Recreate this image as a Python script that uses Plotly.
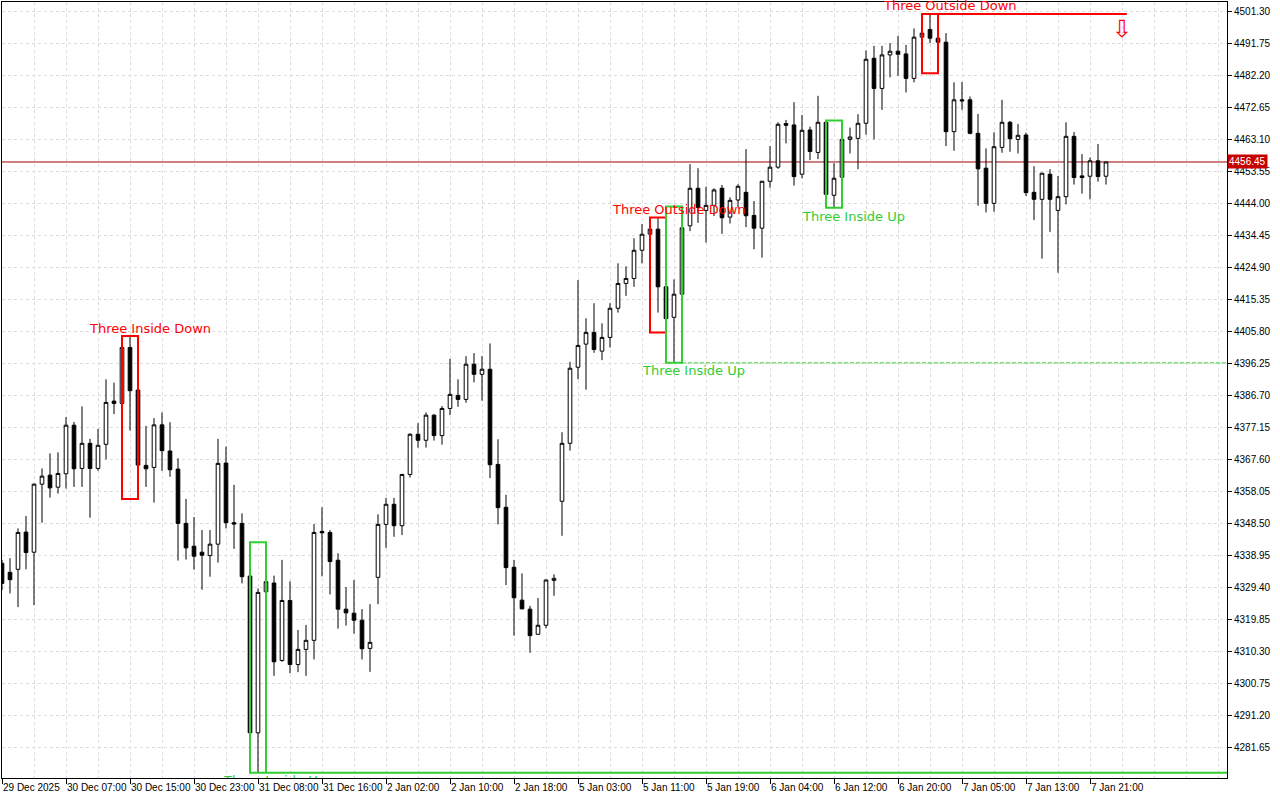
import plotly.graph_objects as go

# ---------------- data (hourly XAUUSD-like candles) ----------------
opens = [4336.7, 4334.0, 4334.9, 4346.0, 4340.0, 4360.3, 4363.0, 4359.4, 4363.4, 4377.9,
         4365.0, 4372.5, 4365.0, 4372.2, 4385.1, 4384.4, 4401.1, 4388.4, 4365.9, 4365.3,
         4378.0, 4370.2, 4364.8, 4348.6, 4341.8, 4340.0, 4339.0, 4342.4, 4366.6, 4348.8,
         4348.6, 4332.9, 4286.1, 4328.2, 4330.8, 4307.7, 4325.6, 4306.5, 4311.0, 4313.7,
         4346.2, 4345.9, 4337.6, 4323.0, 4321.8, 4319.7, 4311.3, 4332.5, 4348.3, 4354.3,
         4347.9, 4363.2, 4375.2, 4373.4, 4380.9, 4374.8, 4382.9, 4386.8, 4385.6, 4396.1,
         4393.1, 4394.6, 4366.2, 4353.4, 4335.5, 4325.7, 4323.0, 4315.5, 4318.2, 4331.6,
         4355.2, 4372.5, 4395.2, 4402.1, 4405.6, 4400.0, 4404.1, 4412.8, 4420.2, 4421.7,
         4430.1, 4434.9, 4436.4, 4419.2, 4410.1, 4417.0, 4437.4, 4448.6, 4442.0, 4443.5,
         4448.6, 4440.0, 4445.1, 4447.4, 4440.5, 4436.7, 4450.7, 4454.9, 4467.9, 4467.5,
         4452.8, 4466.0, 4459.3, 4468.3, 4446.5, 4451.9, 4463.2, 4463.5, 4468.0, 4487.4,
         4478.4, 4488.4, 4489.5, 4488.7, 4481.4, 4493.7, 4496.0, 4493.4, 4492.2, 4465.5,
         4475.0, 4475.0, 4465.0, 4454.6, 4444.1, 4460.8, 4468.3, 4463.2, 4464.5, 4447.4,
         4445.3, 4452.8, 4442.0, 4446.1, 4464.1, 4452.3, 4452.2, 4456.8, 4452.2]
highs = [4337.7, 4338.2, 4347.1, 4350.8, 4360.5, 4365.0, 4369.5, 4369.8, 4380.3, 4378.9,
         4383.5, 4373.8, 4376.8, 4391.6, 4390.6, 4402.8, 4404.5, 4392.2, 4377.7, 4380.0,
         4381.7, 4378.8, 4368.0, 4355.9, 4350.5, 4346.6, 4346.6, 4373.8, 4371.5, 4360.1,
         4351.6, 4343.0, 4329.2, 4335.2, 4333.0, 4337.7, 4331.3, 4316.8, 4318.3, 4348.4,
         4353.4, 4346.6, 4339.7, 4329.6, 4331.7, 4323.0, 4324.5, 4351.3, 4356.2, 4356.2,
         4363.4, 4375.5, 4378.5, 4381.7, 4381.2, 4383.6, 4397.7, 4391.6, 4398.5, 4399.4,
         4398.5, 4402.3, 4373.7, 4357.1, 4337.7, 4333.7, 4324.0, 4326.3, 4331.9, 4333.4,
         4375.8, 4396.8, 4421.2, 4409.8, 4414.3, 4408.3, 4414.3, 4426.2, 4425.3, 4433.7,
         4437.9, 4439.6, 4439.9, 4421.4, 4421.4, 4443.2, 4455.8, 4454.6, 4449.1, 4448.6,
         4449.6, 4445.9, 4449.8, 4460.3, 4444.8, 4450.8, 4461.2, 4468.3, 4469.0, 4474.3,
         4470.5, 4467.0, 4476.2, 4468.8, 4456.1, 4468.8, 4466.7, 4470.7, 4489.7, 4491.1,
         4491.1, 4491.9, 4494.1, 4491.4, 4496.3, 4497.3, 4500.6, 4494.6, 4494.9, 4480.2,
         4480.3, 4476.0, 4470.8, 4460.5, 4465.3, 4475.0, 4468.7, 4467.8, 4465.2, 4455.2,
         4453.2, 4454.3, 4452.3, 4468.3, 4465.4, 4458.8, 4457.8, 4461.8, 4456.6]
lows = [4328.7, 4327.7, 4323.6, 4334.9, 4324.2, 4348.8, 4356.3, 4357.5, 4359.0, 4359.5,
        4359.5, 4350.3, 4364.3, 4367.7, 4381.2, 4383.2, 4376.3, 4355.9, 4359.5, 4354.8,
        4364.3, 4362.5, 4337.5, 4337.8, 4334.8, 4328.8, 4332.7, 4336.9, 4347.1, 4341.0,
        4330.7, 4276.0, 4274.2, 4323.7, 4303.1, 4307.3, 4303.9, 4304.2, 4303.1, 4308.0,
        4332.8, 4327.4, 4317.2, 4318.1, 4315.7, 4308.0, 4304.3, 4324.5, 4341.3, 4344.6,
        4345.1, 4362.3, 4371.2, 4371.2, 4373.3, 4372.1, 4380.9, 4383.4, 4384.6, 4390.7,
        4385.2, 4362.1, 4348.3, 4330.2, 4315.1, 4322.9, 4310.0, 4315.4, 4317.3, 4327.0,
        4344.9, 4370.3, 4391.6, 4388.5, 4399.5, 4397.3, 4401.1, 4411.5, 4416.5, 4419.2,
        4426.2, 4431.0, 4411.5, 4405.6, 4396.5, 4415.9, 4435.8, 4438.3, 4432.4, 4440.3,
        4435.0, 4438.1, 4442.9, 4437.0, 4430.4, 4427.9, 4448.8, 4454.4, 4462.0, 4449.4,
        4451.6, 4457.0, 4457.3, 4444.6, 4442.8, 4451.3, 4459.0, 4454.3, 4464.6, 4463.2,
        4472.0, 4481.7, 4482.2, 4477.2, 4480.2, 4491.9, 4491.9, 4482.9, 4461.2, 4459.8,
        4472.0, 4464.7, 4443.4, 4441.4, 4441.6, 4459.2, 4459.5, 4459.0, 4446.3, 4439.1,
        4427.6, 4435.6, 4423.4, 4443.8, 4449.7, 4447.0, 4445.3, 4450.6, 4449.7]
closes = [4330.7, 4331.8, 4345.9, 4339.9, 4360.3, 4362.7, 4359.2, 4363.5, 4377.9, 4364.9,
          4372.5, 4365.0, 4371.9, 4384.7, 4384.4, 4401.1, 4388.2, 4366.0, 4364.9, 4378.0,
          4370.3, 4364.6, 4348.6, 4341.3, 4338.8, 4339.1, 4342.4, 4366.5, 4348.8, 4348.4,
          4332.7, 4286.1, 4328.0, 4331.2, 4307.3, 4325.6, 4306.5, 4311.0, 4313.7, 4345.9,
          4345.8, 4337.2, 4323.0, 4321.9, 4319.7, 4311.2, 4313.1, 4348.3, 4354.3, 4347.9,
          4363.2, 4375.2, 4373.4, 4380.9, 4374.8, 4382.9, 4387.1, 4385.6, 4396.1, 4393.1,
          4394.6, 4366.1, 4353.3, 4335.4, 4326.4, 4323.1, 4315.1, 4318.2, 4331.7, 4332.2,
          4372.5, 4394.9, 4401.7, 4405.6, 4400.5, 4404.1, 4412.8, 4420.2, 4421.7, 4430.1,
          4434.9, 4436.4, 4419.2, 4409.7, 4417.0, 4436.8, 4448.6, 4442.9, 4443.5, 4448.1,
          4439.8, 4445.0, 4449.2, 4440.4, 4436.7, 4450.7, 4454.9, 4467.7, 4467.4, 4452.1,
          4465.9, 4459.6, 4468.3, 4446.8, 4451.6, 4463.2, 4463.9, 4468.0, 4487.1, 4478.4,
          4488.4, 4489.5, 4488.6, 4481.4, 4493.7, 4494.9, 4493.4, 4492.2, 4465.5, 4475.0,
          4474.7, 4465.0, 4454.4, 4444.1, 4461.0, 4468.3, 4463.4, 4464.4, 4447.3, 4445.3,
          4453.1, 4445.3, 4446.1, 4464.1, 4451.8, 4451.8, 4456.8, 4452.1, 4456.45]

time_labels = ["29 Dec 2025", "30 Dec 07:00", "30 Dec 15:00", "30 Dec 23:00", "31 Dec 08:00",
               "31 Dec 16:00", "2 Jan 02:00", "2 Jan 10:00", "2 Jan 18:00", "5 Jan 03:00",
               "5 Jan 11:00", "5 Jan 19:00", "6 Jan 04:00", "6 Jan 12:00", "6 Jan 20:00",
               "7 Jan 05:00", "7 Jan 13:00", "7 Jan 21:00"]
price_ticks = [4501.30, 4491.75, 4482.20, 4472.65, 4463.10, 4453.55, 4444.00, 4434.45,
               4424.90, 4415.35, 4405.80, 4396.25, 4386.70, 4377.15, 4367.60, 4358.05,
               4348.50, 4338.95, 4329.40, 4319.85, 4310.30, 4300.75, 4291.20, 4281.65]
last_price = 4456.45

# pattern name, colour key, first candle, last candle
pattern_names = ["Three Inside Down", "Three Inside Up", "Three Outside Down",
                 "Three Inside Up", "Three Inside Up", "Three Outside Down"]
pattern_kind = ["bear", "bull", "bear", "bull", "bull", "bear"]
pattern_first = [15, 31, 81, 83, 103, 115]
pattern_last = [17, 33, 83, 85, 105, 117]

# ---------------- styling ----------------
RED = "#ff0000"
GREEN = "#32cd32"
GRID = "#dcdcdc"
FONT_AX = "Liberation Sans"
FONT_LBL = "DejaVu Sans"

n = len(opens)
xs = list(range(n))
x_max = 153.125
y_min, y_max = 4272.62, 4504.19

fig = go.Figure()
fig.add_trace(go.Candlestick(
    x=xs, open=opens, high=highs, low=lows, close=closes,
    increasing=dict(line=dict(color="black", width=1), fillcolor="white"),
    decreasing=dict(line=dict(color="black", width=1), fillcolor="black"),
    whiskerwidth=0, showlegend=False, hoverinfo="skip"))

shapes = []
# current price line
shapes.append(dict(type="line", xref="paper", x0=0, x1=1, yref="y", y0=last_price, y1=last_price,
                   line=dict(color="#a00000", width=1), layer="below"))

annotations = []
label_pos = [(10.6, 4406.9), (27.75, 4271.6), (76.0, 4442.4), (79.75, 4394.1),
             (99.75, 4440.3), (109.9, 4503.0)]
for k in range(len(pattern_names)):
    a, b = pattern_first[k], pattern_last[k]
    top = max(highs[a:b + 1])
    bot = min(lows[a:b + 1])
    col = RED if pattern_kind[k] == "bear" else GREEN
    shapes.append(dict(type="rect", xref="x", yref="y", x0=a, x1=b, y0=bot, y1=top,
                       line=dict(color=col, width=2), fillcolor="rgba(0,0,0,0)", layer="above"))
    lx, ly = label_pos[k]
    if k == 1:
        fig.add_trace(go.Scatter(x=[lx], y=[ly], mode="text", text=[pattern_names[k]],
                                 textposition="middle right", cliponaxis=True,
                                 textfont=dict(family=FONT_LBL, size=13, color=col),
                                 showlegend=False, hoverinfo="skip"))
    else:
        annotations.append(dict(x=lx, y=ly, xref="x", yref="y", text=pattern_names[k],
                                showarrow=False, xanchor="left", yanchor="middle",
                                font=dict(family=FONT_LBL, size=13, color=col)))

# level lines extending from patterns
b1 = min(lows[31:34])
shapes.append(dict(type="line", xref="x", yref="y", x0=33, x1=x_max, y0=b1, y1=b1,
                   line=dict(color=GREEN, width=2), layer="above"))
b2 = min(lows[83:86])
shapes.append(dict(type="line", xref="x", yref="y", x0=85, x1=x_max, y0=b2, y1=b2,
                   line=dict(color=GREEN, width=1, dash="4px,2px"), layer="above"))
t3 = max(highs[115:118])
shapes.append(dict(type="line", xref="x", yref="y", x0=117, x1=140.6, y0=t3, y1=t3,
                   line=dict(color=RED, width=2), layer="above"))

# down arrow signal
annotations.append(dict(x=140, y=4496.0, xref="x", yref="y", text="⇩", showarrow=False,
                        font=dict(family="DejaVu Sans", size=24, color=RED)))

# current price tag
annotations.append(dict(x=1.0, xref="paper", y=last_price, yref="y", text=f"{last_price:.2f}",
                        showarrow=False, xanchor="left", yanchor="middle", bgcolor="#c80000",
                        borderpad=1, font=dict(family=FONT_AX, size=10, color="white")))

fig.update_layout(
    width=1280, height=800,
    margin=dict(l=2, r=53, t=2, b=22, autoexpand=False),
    paper_bgcolor="white", plot_bgcolor="white",
    boxgap=0.35,
    shapes=shapes, annotations=annotations,
    showlegend=False,
    xaxis=dict(
        range=[0, x_max], rangeslider=dict(visible=False), automargin=False,
        tickmode="array", tickvals=list(range(0, n, 8)), ticktext=time_labels,
        tickangle=0,
        ticks="outside", ticklen=5, tickcolor="black", ticklabelposition="outside right",
        showline=True, linecolor="black", linewidth=1, mirror=True,
        showgrid=True, gridcolor=GRID, griddash="3px,3px", gridwidth=1, zeroline=False,
        minor=dict(tickmode="linear", tick0=0, dtick=4, showgrid=True, gridcolor=GRID,
                   griddash="3px,3px", gridwidth=1),
        tickfont=dict(family=FONT_AX, size=10, color="black")),
    yaxis=dict(
        range=[y_min, y_max], side="right", automargin=False,
        tickmode="array", tickvals=price_ticks, ticktext=[f"{v:.2f}" for v in price_ticks],
        ticks="outside", ticklen=4, tickcolor="black",
        showline=True, linecolor="black", linewidth=1, mirror=True,
        showgrid=True, gridcolor=GRID, griddash="3px,3px", gridwidth=1, zeroline=False,
        tickfont=dict(family=FONT_AX, size=10, color="black")),
)

fig.write_html("out.html", config={"displayModeBar": False},
               post_script="document.body.style.margin='0';")
